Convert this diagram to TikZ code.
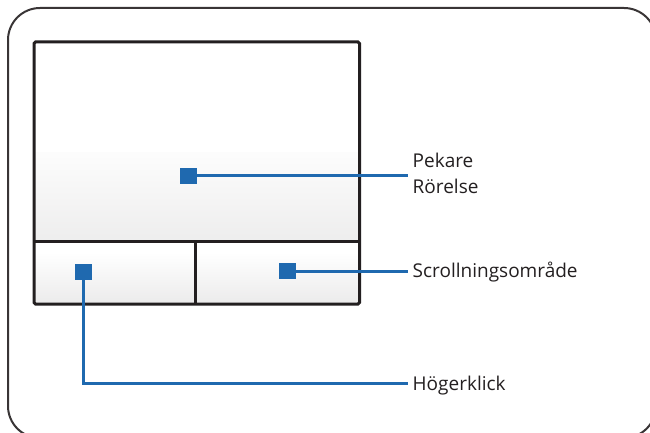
\documentclass[tikz,border=0pt]{standalone}
\usepackage{fontspec}
\setmainfont{Open Sans}
\usepackage{xcolor}
\usetikzlibrary{calc,positioning}
\definecolor{padblue}{RGB}{31,105,175}
\definecolor{padink}{RGB}{35,31,32}

\begin{document}
\begin{tikzpicture}[x=1pt,y=-1pt,
  frame/.style={line width=2pt,padink!90},
  padline/.style={line width=3pt,padink},
  padmark/.style={fill=padblue,minimum width=17pt,minimum height=16pt,inner sep=0pt},
  lead/.style={line width=3pt,padblue},
  lbl/.style={font=\fontsize{19}{26}\selectfont,text=padink,anchor=west,
    inner xsep=4.5pt,inner ysep=0pt,text height=14pt,text depth=0pt,align=left}]
\useasboundingbox (0,0) rectangle (650,433);
\begin{scope}
  \clip (0,0) rectangle (650,433);
  \draw[frame,rounded corners=32pt] (8,8) rectangle (656,438);
\end{scope}
\coordinate (TL) at (34,42);
\coordinate (BR) at (359.5,304);
\coordinate (D) at (34,241.5);
% pad surface
\fill[white] (TL) rectangle (BR);
\shade[top color=white!99!black,bottom color=padink!8] (34,152) rectangle (359.5,241.5);
\shade[top color=white,bottom color=padink!9] (34,252) rectangle (BR);
\draw[padline,rounded corners=1.5pt] (TL) rectangle (BR);
\draw[padline] (D) -- (D -| BR);
\draw[padline] (195,241.5) -- (195,304);
% markers and labels
\node[padmark] (pekmark) at (188.5,175.5) {};
\node[padmark] (scrmark) at (287.5,271) {};
\node[padmark] (hogmark) at (83.5,271.5) {};
\node[lbl] (peklbl) at (408,186.7) {Pekare\\Rörelse};
\node[lbl] (scrlbl) at (408,270.5) {Scrollningsområde};
\node[lbl] (hoglbl) at (408,383) {Högerklick};
\draw[lead] (pekmark) -- (pekmark -| peklbl.west);
\draw[lead] (scrmark) -- (scrmark -| scrlbl.west);
\draw[lead] (hogmark) |- (hoglbl.west);
\end{tikzpicture}
\end{document}
